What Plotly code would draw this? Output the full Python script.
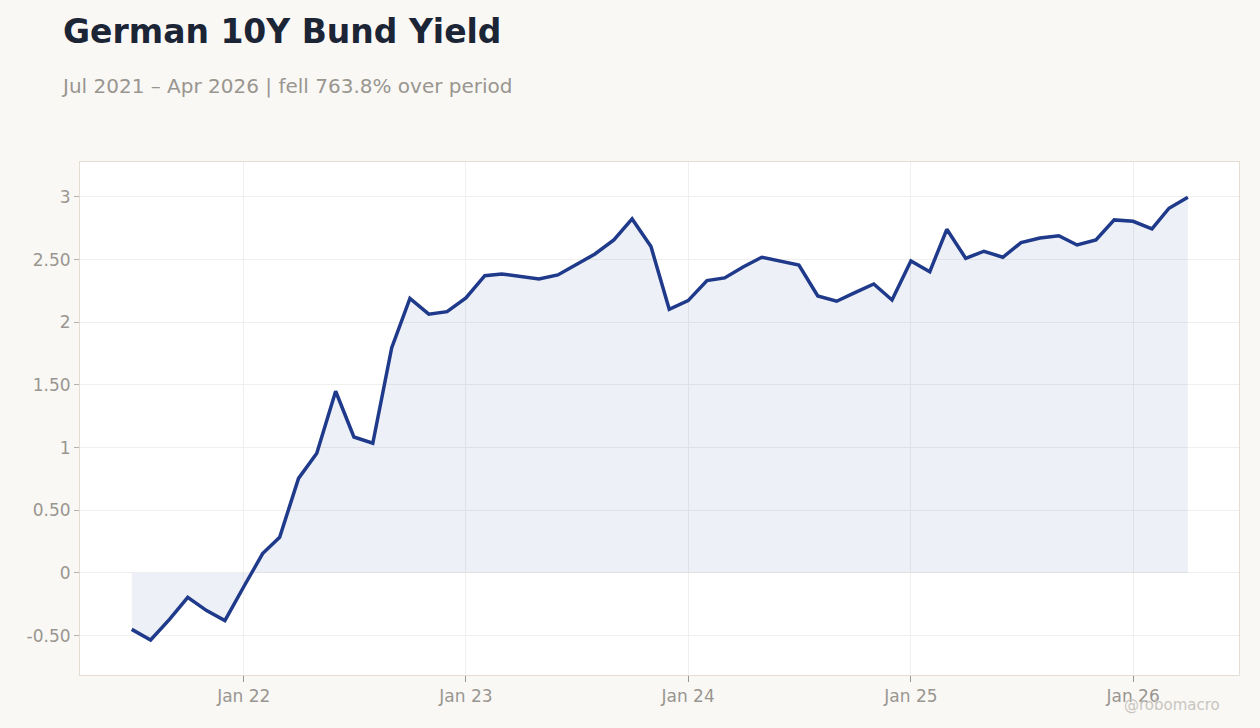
import pandas as pd
import plotly.graph_objects as go

# monthly German 10Y Bund yield, Jul 2021 - Apr 2026
months = pd.date_range("2021-07-01", "2026-04-01", freq="MS")
yields = [
    -0.45, -0.535, -0.37, -0.195, -0.30, -0.38,
    -0.11, 0.155, 0.285, 0.755, 0.955, 1.45, 1.085, 1.035, 1.795, 2.19, 2.065, 2.085,
    2.195, 2.372, 2.386, 2.362, 2.345, 2.378, 2.463, 2.545, 2.657, 2.825, 2.604, 2.104,
    2.173, 2.333, 2.354, 2.444, 2.519, 2.487, 2.457, 2.21, 2.168, 2.237, 2.306, 2.178,
    2.489, 2.404, 2.742, 2.511, 2.567, 2.519, 2.636, 2.673, 2.691, 2.617, 2.657, 2.817,
    2.806, 2.745, 2.91, 2.998,
]

ytick_vals = [-0.5, 0, 0.5, 1, 1.5, 2, 2.5, 3]
ytick_text = ["-0.50", "0", "0.50", "1", "1.50", "2", "2.50", "3"]
xtick_vals = ["2022-01-01", "2023-01-01", "2024-01-01", "2025-01-01", "2026-01-01"]
xtick_text = ["Jan 22", "Jan 23", "Jan 24", "Jan 25", "Jan 26"]

title = "German 10Y Bund Yield"
subtitle = "Jul 2021 – Apr 2026 | fell 763.8% over period"

fig = go.Figure()
fig.add_trace(go.Scatter(
    x=months, y=yields, mode="lines",
    line=dict(color="#1f3a8a", width=3.5),
    fill="tozeroy", fillcolor="rgba(31,58,138,0.08)",
    hoverinfo="x+y", showlegend=False,
))

fig.update_layout(
    width=1260, height=728,
    paper_bgcolor="#f9f8f5", plot_bgcolor="#ffffff",
    margin=dict(l=80, r=21, t=162, b=53),
    font=dict(family="DejaVu Sans", color="#999690", size=17),
    annotations=[
        dict(text=f"<b>{title}</b>", xref="paper", yref="paper", x=-0.0165, y=1.255,
             xanchor="left", yanchor="middle", showarrow=False,
             font=dict(size=33, color="#1c2536")),
        dict(text=subtitle, xref="paper", yref="paper", x=-0.018, y=1.148,
             xanchor="left", yanchor="middle", showarrow=False,
             font=dict(size=20, color="#999690")),
        dict(text="@robomacro", xref="paper", yref="paper", x=0.985, y=-0.058,
             xanchor="right", yanchor="middle", showarrow=False,
             font=dict(size=15, color="#c9c5bf")),
    ],
)
fig.update_xaxes(
    range=["2021-04-07", "2026-06-24"],
    tickvals=xtick_vals, ticktext=xtick_text,
    showgrid=True, gridcolor="#f0efed", zeroline=False,
    ticks="outside", ticklen=6, tickcolor="#999690",
    showline=True, linecolor="#e3ddd3", mirror=True,
)
fig.update_yaxes(
    range=[-0.814, 3.279],
    tickvals=ytick_vals, ticktext=ytick_text,
    showgrid=True, gridcolor="#f0efed", zeroline=False,
    ticks="outside", ticklen=5, tickcolor="#b5b1ab",
    showline=True, linecolor="#e3ddd3", mirror=True,
)

# drop the default page margin so the figure fills the window
fig.write_html("out.html", config={"displayModeBar": False},
               post_script="document.body.style.margin='0';")
